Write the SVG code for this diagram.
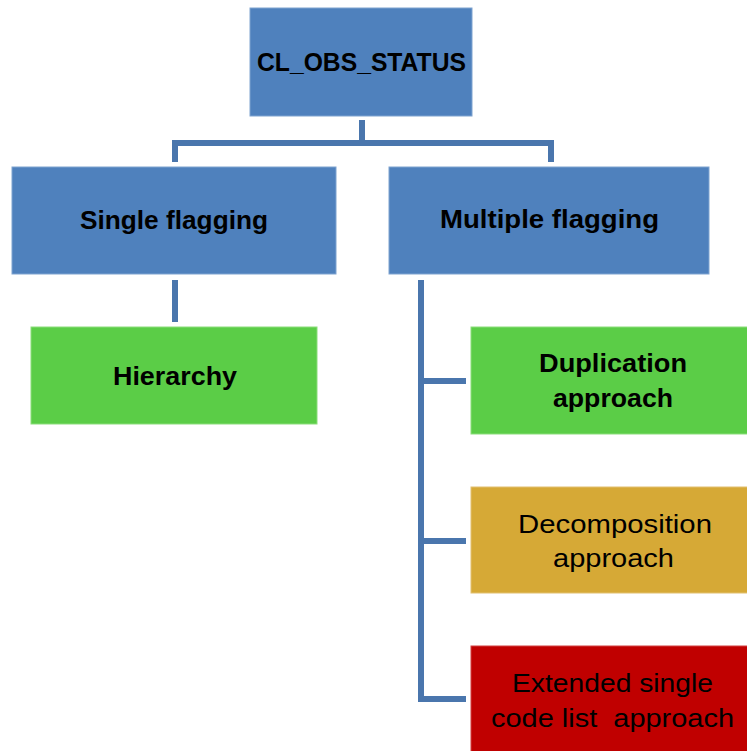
<svg xmlns="http://www.w3.org/2000/svg" width="747" height="751" viewBox="0 0 747 751">
<style>
text{font-family:"Liberation Sans","Open Sans",Arial,sans-serif;font-size:26px;fill:#000}
.b{font-weight:bold}
.blue{fill:#4F81BD;stroke:#7FA3D0;stroke-width:1}
.green{fill:#5BCD47;stroke:#8BDD7A;stroke-width:1}
.gold{fill:#D6A936;stroke:#E2C070;stroke-width:1}
.red{fill:#C00000;stroke:#D24040;stroke-width:1}
.conn{fill:none;stroke:#4A76AD;stroke-width:6}
</style>
<rect width="747" height="751" fill="#fff"/>
<g id="connectors">
<path class="conn" d="M362 120V143M175 162V143H551V162"/>
<path class="conn" d="M175 280V322"/>
<path class="conn" d="M421 280V699H466M421 381H466M421 541H466"/>
</g>
<g id="root"><rect class="blue" x="250" y="8" width="222" height="108"/><text class="b" x="257" y="71" font-size="27" textLength="209" lengthAdjust="spacingAndGlyphs">CL_OBS_STATUS</text></g>
<g id="single"><rect class="blue" x="12" y="167" width="324" height="107"/><text class="b" x="80" y="229" font-size="27" textLength="188" lengthAdjust="spacingAndGlyphs">Single flagging</text></g>
<g id="multiple"><rect class="blue" x="389" y="167" width="320" height="107"/><text class="b" x="440" y="228" font-size="27" textLength="219" lengthAdjust="spacingAndGlyphs">Multiple flagging</text></g>
<g id="hierarchy"><rect class="green" x="31" y="327" width="286" height="97"/><text class="b" x="113" y="385" textLength="124" lengthAdjust="spacingAndGlyphs">Hierarchy</text></g>
<g id="duplication"><rect class="green" x="471" y="327" width="280" height="107"/><text class="b" x="539" y="372" textLength="148" lengthAdjust="spacingAndGlyphs">Duplication</text><text class="b" x="553" y="407" textLength="120" lengthAdjust="spacingAndGlyphs">approach</text></g>
<g id="decomposition"><rect class="gold" x="471" y="487" width="280" height="106"/><text x="518" y="533" textLength="194" lengthAdjust="spacingAndGlyphs">Decomposition</text><text x="553" y="567" textLength="121" lengthAdjust="spacingAndGlyphs">approach</text></g>
<g id="extended"><rect class="red" x="471" y="646" width="280" height="110"/><text x="512" y="692" textLength="201" lengthAdjust="spacingAndGlyphs">Extended single</text><text x="491" y="727" textLength="243" lengthAdjust="spacingAndGlyphs" xml:space="preserve">code list  approach</text></g>
</svg>
